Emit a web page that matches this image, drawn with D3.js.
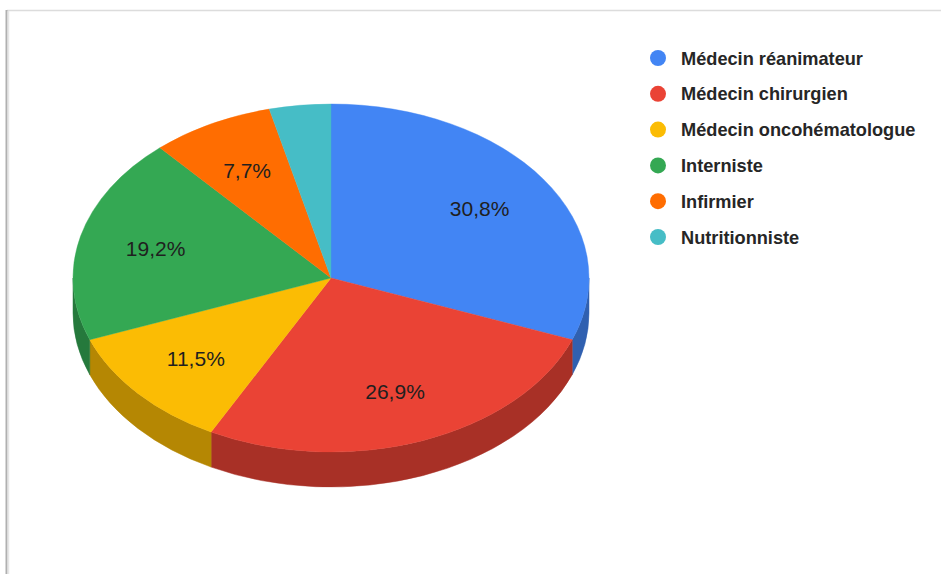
<!DOCTYPE html>
<html>
<head>
<meta charset="utf-8">
<script src="https://cdn.jsdelivr.net/npm/d3@7"></script>
<style>
  html, body { margin: 0; padding: 0; background: #ffffff; }
  svg { display: block; }
</style>
</head>
<body>
<svg id="chart" width="941" height="574"></svg>
<script>
// Répartition des répondants par profession
const categories = [
  "Médecin réanimateur",
  "Médecin chirurgien",
  "Médecin oncohématologue",
  "Interniste",
  "Infirmier",
  "Nutritionniste"
];
const counts = [8, 7, 3, 5, 2, 1];
const colors = ["#4285f4", "#ea4335", "#fbbc04", "#34a853", "#ff6d01", "#46bdc6"];

const W = 941, H = 574;
const svg = d3.select("#chart");

// Cadre de la feuille
svg.append("rect").attr("x", 0).attr("y", 0).attr("width", W).attr("height", H).attr("fill", "#ffffff");
svg.append("line").attr("x1", 7).attr("x2", W).attr("y1", 10.5).attr("y2", 10.5)
  .attr("stroke", "#dcdcdc").attr("stroke-width", 1.5);
svg.append("line").attr("x1", 6.5).attr("x2", 6.5).attr("y1", 10).attr("y2", H)
  .attr("stroke", "#b0b0b0").attr("stroke-width", 2);
svg.append("line").attr("x1", 8.5).attr("x2", 8.5).attr("y1", 11).attr("y2", H)
  .attr("stroke", "#e6e6e6").attr("stroke-width", 1.5);

// Géométrie du camembert 3D
const cx = 331, cy = 278, rx = 258, ry = 174, depth = 35;
const total = d3.sum(counts);

const color = d3.scaleOrdinal().domain(categories).range(colors);
const pie = d3.pie().sort(null).value(d => d.v);
const data = categories.map((c, i) => ({ c, v: counts[i] }));
const arcs = pie(data);

const pt = (a, dy = 0) => [cx + rx * Math.sin(a), cy - ry * Math.cos(a) + dy];
const sideColor = c => { const k = 0.72, r = d3.rgb(c); return d3.rgb(r.r * k, r.g * k, r.b * k).formatHex(); };

const g = svg.append("g");

// Parois latérales (moitié avant uniquement)
arcs.forEach(d => {
  const a0 = Math.max(d.startAngle, Math.PI / 2);
  const a1 = Math.min(d.endAngle, 3 * Math.PI / 2);
  if (a1 <= a0) return;
  const p0 = pt(a0), p1 = pt(a1), q1 = pt(a1, depth), q0 = pt(a0, depth);
  const path = `M${p0[0]},${p0[1]} A${rx},${ry} 0 0 1 ${p1[0]},${p1[1]}` +
               ` L${q1[0]},${q1[1]} A${rx},${ry} 0 0 0 ${q0[0]},${q0[1]} Z`;
  g.append("path").attr("d", path).attr("fill", sideColor(color(d.data.c)))
    .attr("stroke", sideColor(color(d.data.c))).attr("stroke-width", 0.5);
});

// Faces supérieures
const arc = d3.arc().innerRadius(0).outerRadius(rx);
const topFace = g.append("g").attr("transform", `translate(${cx},${cy}) scale(1,${ry / rx})`);
topFace.selectAll("path").data(arcs).join("path")
  .attr("d", arc)
  .attr("fill", d => color(d.data.c))
  .attr("stroke", d => color(d.data.c))
  .attr("stroke-width", 0.5);

// Étiquettes de pourcentage
const fr = d3.formatLocale({ decimal: ",", thousands: " ", grouping: [3], currency: ["", " €"] });
const pct = fr.format(".1%");
arcs.filter(d => d.data.v / total >= 0.05).forEach(d => {
  const mid = (d.startAngle + d.endAngle) / 2;
  const x = cx + 0.7 * rx * Math.sin(mid);
  const y = cy - 0.7 * ry * Math.cos(mid);
  svg.append("text")
    .attr("x", x).attr("y", y).attr("dy", "0.36em")
    .attr("text-anchor", "middle")
    .attr("font-family", "Liberation Sans, Arial, sans-serif")
    .attr("font-size", 21)
    .attr("fill", "#1f1f1f")
    .text(pct(d.data.v / total));
});

// Légende
const legend = svg.append("g").attr("transform", "translate(658,58)");
const rowY = d3.scalePoint().domain(categories).range([0, 179]);
const rows = legend.selectAll("g").data(categories).join("g")
  .attr("transform", d => `translate(0,${rowY(d)})`);
rows.append("circle").attr("r", 8).attr("fill", d => color(d));
rows.append("text")
  .attr("x", 23).attr("dy", "0.36em")
  .attr("font-family", "Liberation Sans, Arial, sans-serif")
  .attr("font-size", 18.2)
  .attr("font-weight", "bold")
  .attr("fill", "#262626")
  .text(d => d);
</script>
</body>
</html>
